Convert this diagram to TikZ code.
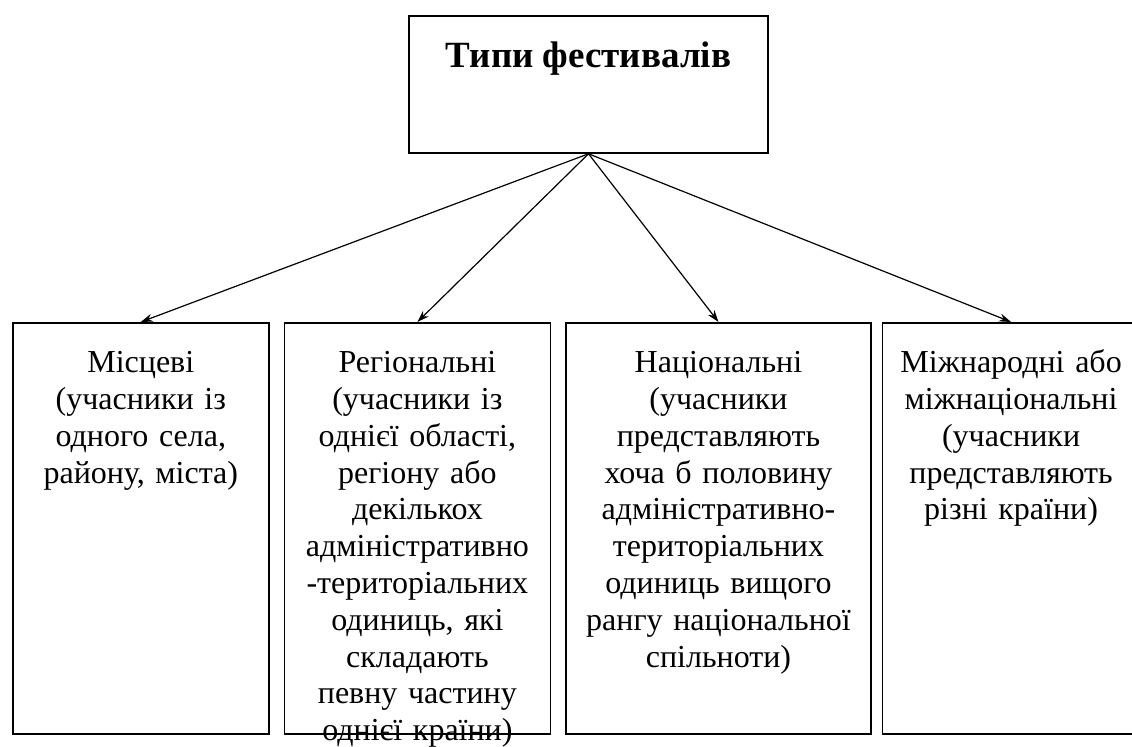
\documentclass[tikz,border=0pt]{standalone}
\usepackage{fontspec}
\setmainfont{Liberation Serif}
\usetikzlibrary{positioning, arrows.meta}
\tikzset{
    kind/.style={
        draw, line width = 0.8pt,
        align = center, inner sep = 0pt,
        text height = 25pt, text depth = 180.5pt,
        font = \fontsize{16}{18.4}\selectfont
    },
    line/.style = {-{Stealth[length=6pt, width=4pt]}, line width = 0.6pt}
}
\begin{document}
\begin{tikzpicture}
\useasboundingbox (0,0) rectangle (566pt,-373.5pt);

\node[draw, line width = 0.8pt, minimum width = 179.5pt, minimum height = 68.5pt, inner sep = 0pt] (types) at (294.25pt,-42.25pt) {};
\node[font = \fontsize{18.5}{21}\selectfont\bfseries, anchor = base] (title) at (294.25pt,-34pt) {Типи фестивалів};

\node[kind, text width = 128pt, anchor = north west] (local) at (6pt,-161pt) {Місцеві\\(учасники із\\одного села,\\району, міста)};
\node[kind, text width = 133pt, right = 7pt of local] (regional) {Регіональні\\(учасники із\\однієї області,\\регіону або\\декількох\\адміністративно\\-територіальних\\одиниць, які\\складають\\певну частину\\однієї країни)};
\node[kind, text width = 152.5pt, right = 7pt of regional] (national) {Національні\\(учасники\\представляють\\хоча б половину\\адміністративно-\\територіальних\\одиниць вищого\\рангу національної\\спільноти)};
\node[kind, text width = 128.5pt, right = 5pt of national] (intl) {Міжнародні або\\міжнаціональні\\(учасники\\представляють\\різні країни)};

\draw[line] (types.south) -- (local.north);
\draw[line] (types.south) -- (regional.north);
\draw[line] (types.south) -- (national.north);
\draw[line] (types.south) -- (intl.north);

\end{tikzpicture}
\end{document}
